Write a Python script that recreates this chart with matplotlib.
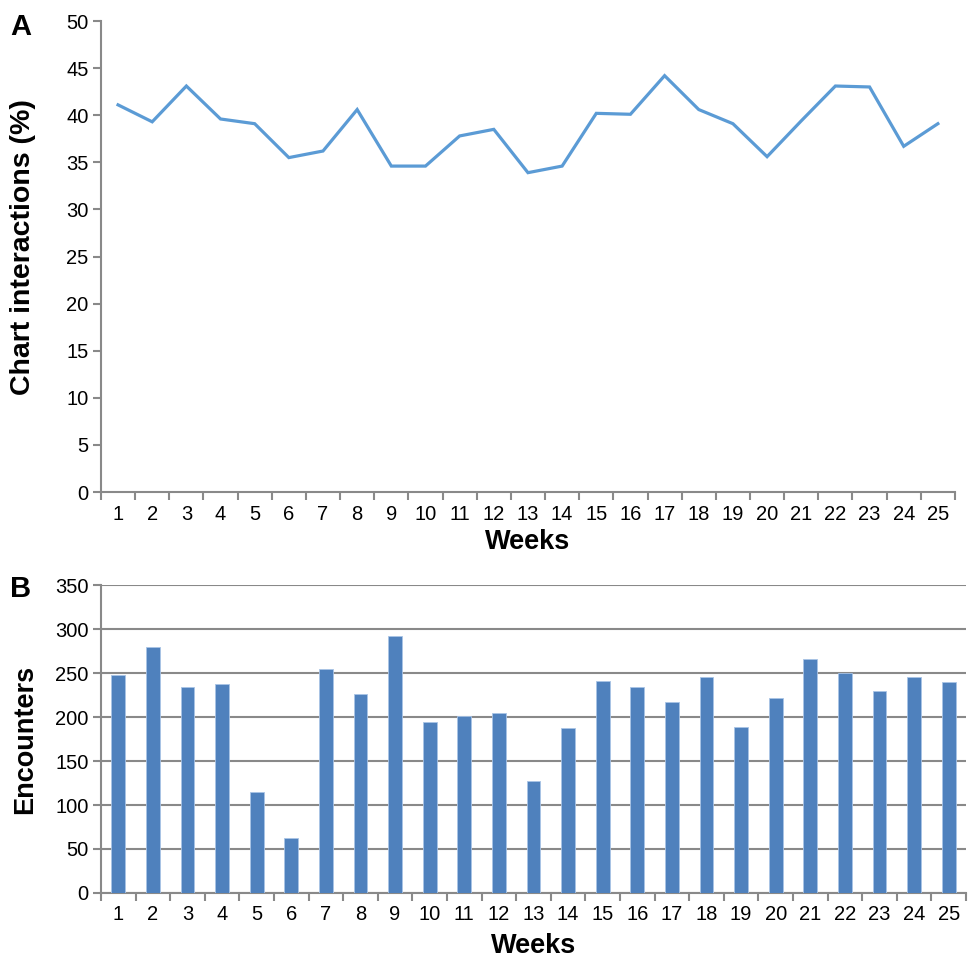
import numpy as np
import matplotlib.pyplot as plt

plt.rcParams['font.family'] = ['Liberation Sans', 'DejaVu Sans']

weeks = list(range(1, 26))
interactions = [41.1, 39.3, 43.1, 39.6, 39.1, 35.5, 36.2, 40.6, 34.6, 34.6,
                37.8, 38.5, 33.9, 34.6, 40.2, 40.1, 44.2, 40.6, 39.1, 35.6,
                39.4, 43.1, 43.0, 36.7, 39.1]
encounters = [248, 279, 234, 237, 115, 62, 254, 226, 292, 194,
              201, 205, 127, 188, 241, 234, 217, 246, 189, 222,
              266, 250, 230, 245, 240]

axis_col = '#898989'
tick_fs = 14.5
fig = plt.figure(figsize=(9.69, 9.60), dpi=100)

# panel A - line
ax1 = fig.add_axes([0.1042, 0.4875, 0.8813, 0.4906])
ax1.plot(weeks, interactions, color='#5B9BD5', lw=2.3, solid_joinstyle='miter')
ax1.set_xlim(0.5, 25.5)
ax1.set_ylim(0, 50)
ax1.set_yticks(np.arange(0, 51, 5))
ax1.set_xticks(weeks)
ax1.set_xticks(np.arange(0.5, 26, 1), minor=True)
ax1.tick_params(axis='x', which='major', length=0, pad=9.5, labelsize=tick_fs)
ax1.tick_params(axis='x', which='minor', length=6, width=1.5, color=axis_col)
ax1.tick_params(axis='y', length=6, width=1.5, color=axis_col, labelsize=tick_fs, pad=3)
for s in ['top', 'right']:
    ax1.spines[s].set_visible(False)
for s in ['left', 'bottom']:
    ax1.spines[s].set_color(axis_col)
    ax1.spines[s].set_linewidth(1.5)
ax1.set_xlabel('Weeks', fontsize=19.5, fontweight='bold')
ax1.xaxis.set_label_coords(0.5, -0.078)
ax1.set_ylabel('Chart interactions (%)', fontsize=20.5, fontweight='bold')
ax1.yaxis.set_label_coords(-0.076, 0.52)
fig.text(0.0217, 0.972, 'A', fontsize=21, fontweight='bold', ha='center', va='center')

# panel B - bars
ax2 = fig.add_axes([0.1042, 0.0698, 0.8927, 0.3208])
ax2.bar(weeks, encounters, width=0.4, color='#4F81BD', edgecolor='#A9C4E6', linewidth=0.6, zorder=3)
ax2.set_xlim(0.5, 25.5)
ax2.set_ylim(0, 350)
ax2.set_yticks(np.arange(0, 351, 50))
ax2.grid(axis='y', color=axis_col, lw=1.5, zorder=0)
ax2.set_xticks(weeks)
ax2.set_xticks(np.arange(0.5, 26, 1), minor=True)
ax2.tick_params(axis='x', which='major', length=0, pad=8.5, labelsize=tick_fs)
ax2.tick_params(axis='x', which='minor', length=6, width=1.5, color=axis_col)
ax2.tick_params(axis='y', length=6, width=1.5, color=axis_col, labelsize=tick_fs, pad=3)
for s in ['top', 'right']:
    ax2.spines[s].set_visible(False)
for s in ['left', 'bottom']:
    ax2.spines[s].set_color(axis_col)
    ax2.spines[s].set_linewidth(1.5)
ax2.set_xlabel('Weeks', fontsize=19.5, fontweight='bold')
ax2.xaxis.set_label_coords(0.5, -0.13)
ax2.set_ylabel('Encounters', fontsize=19.5, fontweight='bold')
ax2.yaxis.set_label_coords(-0.073, 0.5)
fig.text(0.0217, 0.386, 'B', fontsize=21, fontweight='bold', ha='center', va='center')

fig.savefig('out.png', dpi=100)
